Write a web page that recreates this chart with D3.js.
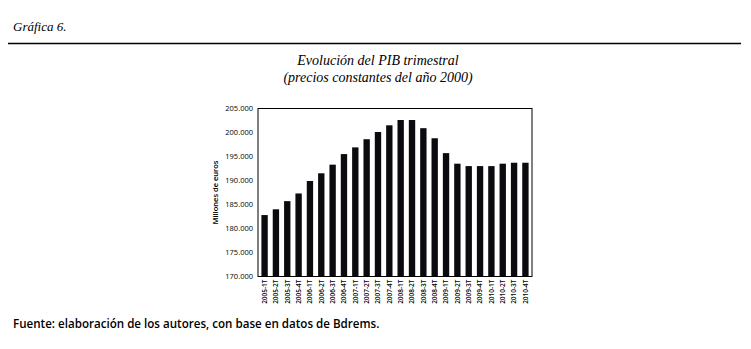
<!DOCTYPE html>
<html><head><meta charset="utf-8">
<script src="https://cdn.jsdelivr.net/npm/d3@7"></script>
<style>body{margin:0;background:#fff}svg{display:block}</style>
</head><body>
<script>
const categories = ["2005-1T","2005-2T","2005-3T","2005-4T","2006-1T","2006-2T","2006-3T","2006-4T","2007-1T","2007-2T","2007-3T","2007-4T","2008-1T","2008-2T","2008-3T","2008-4T","2009-1T","2009-2T","2009-3T","2009-4T","2010-1T","2010-2T","2010-3T","2010-4T"];
const values = [182800,184000,185700,187300,189900,191500,193300,195500,196900,198600,200100,201500,202600,202600,200900,198800,195700,193500,193000,193000,193000,193500,193700,193700];
const yTicks = [170000,175000,180000,185000,190000,195000,200000,205000];

const W = 751, H = 349;
const svg = d3.select("body").append("svg").attr("width", W).attr("height", H);
const m = {left: 258, right: 532, top: 108.5, bottom: 276.5};

const x = d3.scaleBand().domain(categories).range([m.left, m.right]).paddingInner(0.44).paddingOuter(0.3);
const y = d3.scaleLinear().domain([170000, 205000]).range([m.bottom, m.top]);
const fmt = v => d3.format(",")(v).replace(/,/g, ".");

svg.append("text").attr("x", 13).attr("y", 31).attr("font-family", "Liberation Serif").attr("font-style", "italic").attr("font-size", 13).text("Gráfica 6.");
svg.append("line").attr("x1", 8).attr("x2", 741).attr("y1", 43.5).attr("y2", 43.5).attr("stroke", "#000").attr("stroke-width", 1.3);

svg.append("text").attr("x", 378).attr("y", 65).attr("text-anchor", "middle").attr("font-family", "Liberation Serif").attr("font-style", "italic").attr("font-size", 14).text("Evolución del PIB trimestral");
svg.append("text").attr("x", 378).attr("y", 82).attr("text-anchor", "middle").attr("font-family", "Liberation Serif").attr("font-style", "italic").attr("font-size", 14).text("(precios constantes del año 2000)");

svg.selectAll("rect.bar").data(values).join("rect").attr("class", "bar")
  .attr("x", (d, i) => x(categories[i])).attr("width", x.bandwidth())
  .attr("y", d => y(d)).attr("height", d => y(170000) - y(d)).attr("fill", "#0a0a0f");

svg.append("rect").attr("x", m.left).attr("y", m.top).attr("width", m.right - m.left).attr("height", m.bottom - m.top)
  .attr("fill", "none").attr("stroke", "#000").attr("stroke-width", 1);

const yAxis = svg.append("g").attr("transform", `translate(${m.left},0)`)
  .call(d3.axisLeft(y).tickValues(yTicks).tickFormat(fmt).tickSize(0).tickPadding(5));
yAxis.select(".domain").remove();
yAxis.selectAll("text").attr("font-family", "Open Sans").attr("font-size", 7.5).attr("fill", "#000");

const xAxis = svg.append("g").attr("transform", `translate(0,${m.bottom})`)
  .call(d3.axisBottom(x).tickSize(0).tickPadding(3));
xAxis.select(".domain").remove();
xAxis.selectAll(".tick text").attr("font-family", "Open Sans").attr("font-size", 6.5).attr("font-weight", 600).attr("fill", "#000")
  .attr("transform", "rotate(-90)").attr("text-anchor", "end").attr("x", -3).attr("y", 0).attr("dy", "0.35em");

svg.append("text").attr("transform", `translate(218,${(m.top + m.bottom) / 2}) rotate(-90)`).attr("text-anchor", "middle")
  .attr("font-family", "Open Sans").attr("font-size", 7.5).attr("font-weight", 600).text("Millones de euros");

svg.append("text").attr("x", 13).attr("y", 328).attr("font-family", "Open Sans").attr("font-size", 11.6).attr("font-weight", 600).text("Fuente: elaboración de los autores, con base en datos de Bdrems.");
</script>
</body></html>
